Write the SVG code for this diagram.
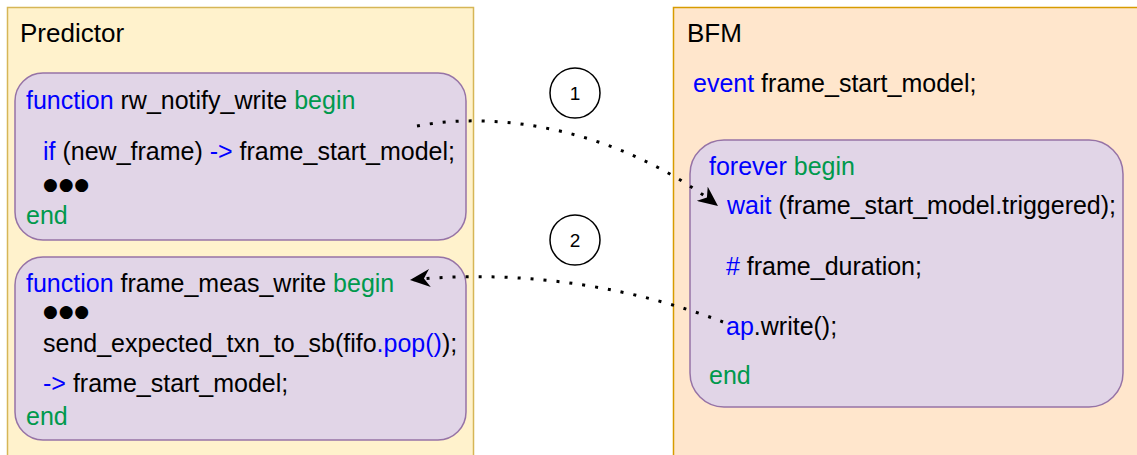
<svg xmlns="http://www.w3.org/2000/svg" width="1137" height="455" viewBox="0 0 1137 455">
<style>
.t{font-family:"Liberation Sans",Arial,sans-serif;font-size:25px;fill:#000}
.k{fill:#0000ff}
.g{fill:#00994d}
.b{font-family:"DejaVu Sans",sans-serif;font-size:17px;letter-spacing:0.8px;fill:#000}
.node{fill:#e1d5e7;stroke:#9673a6;stroke-width:1.5}
.conn{fill:none;stroke:#000;stroke-width:3;stroke-dasharray:3 10}
.num{font-family:"Liberation Sans",Arial,sans-serif;font-size:19px;fill:#000;text-anchor:middle}
</style>
<defs>
<marker id="arr" markerUnits="userSpaceOnUse" viewBox="0 0 20 18" refX="20" refY="9" markerWidth="20" markerHeight="18" orient="auto">
<path d="M0,0 L20,9 L0,18 L6,9 Z" fill="#000"/>
</marker>
</defs>
<rect width="1137" height="455" fill="#fff"/>
<g id="predictor">
<rect x="7.5" y="7.5" width="466" height="470" fill="#fff2cc" stroke="#d6b656" stroke-width="1.5"/>
<text class="t" x="20" y="42" style="font-size:26px">Predictor</text>
</g>
<g id="bfm">
<rect x="673.5" y="7.5" width="480" height="470" fill="#ffe6cc" stroke="#d79b00" stroke-width="1.5"/>
<text class="t" x="687" y="42" style="font-size:26px">BFM</text>
<text class="t" x="693" y="92"><tspan class="k">event</tspan> frame_start_model;</text>
</g>
<g id="rw_notify_write">
<rect class="node" x="15" y="73" width="451" height="167" rx="28" ry="28"/>
<text class="t" x="26" y="109"><tspan class="k">function</tspan> rw_notify_write <tspan class="g">begin</tspan></text>
<text class="t" x="43" y="160"><tspan class="k">if</tspan> (new_frame) <tspan class="k">-&gt;</tspan> frame_start_model;</text>
<text class="b" x="43" y="190">●●●</text>
<text class="t g" x="26" y="224">end</text>
</g>
<g id="frame_meas_write">
<rect class="node" x="15" y="257" width="451" height="183" rx="28" ry="28"/>
<text class="t" x="26" y="292"><tspan class="k">function</tspan> frame_meas_write <tspan class="g">begin</tspan></text>
<text class="b" x="43" y="317">●●●</text>
<text class="t" x="43" y="352">send_expected_txn_to_sb(fifo<tspan class="k">.pop()</tspan>);</text>
<text class="t" x="43" y="392"><tspan class="k">-&gt;</tspan> frame_start_model;</text>
<text class="t g" x="26" y="425">end</text>
</g>
<g id="forever_block">
<rect class="node" x="690" y="140" width="433" height="267" rx="34" ry="34"/>
<text class="t" x="709" y="175"><tspan class="k">forever</tspan> <tspan class="g">begin</tspan></text>
<text class="t" x="727" y="214"><tspan class="k">wait</tspan> (frame_start_model.triggered);</text>
<text class="t" x="726" y="275"><tspan class="k">#</tspan> frame_duration;</text>
<text class="t" x="726" y="335"><tspan class="k">ap</tspan>.write();</text>
<text class="t g" x="709" y="384">end</text>
</g>
<g id="step1">
<circle cx="575" cy="93" r="25" fill="#fff" stroke="#000" stroke-width="1.5"/>
<text class="num" x="575" y="100">1</text>
</g>
<g id="step2">
<circle cx="575" cy="240" r="25" fill="#fff" stroke="#000" stroke-width="1.5"/>
<text class="num" x="575" y="247">2</text>
</g>
<g id="connectors">
<path class="conn" d="M417,126 C500,110 620,130 718,206" marker-end="url(#arr)"/>
<path class="conn" d="M723,322 C640,290 530,268 410,280" marker-end="url(#arr)"/>
</g>
</svg>
